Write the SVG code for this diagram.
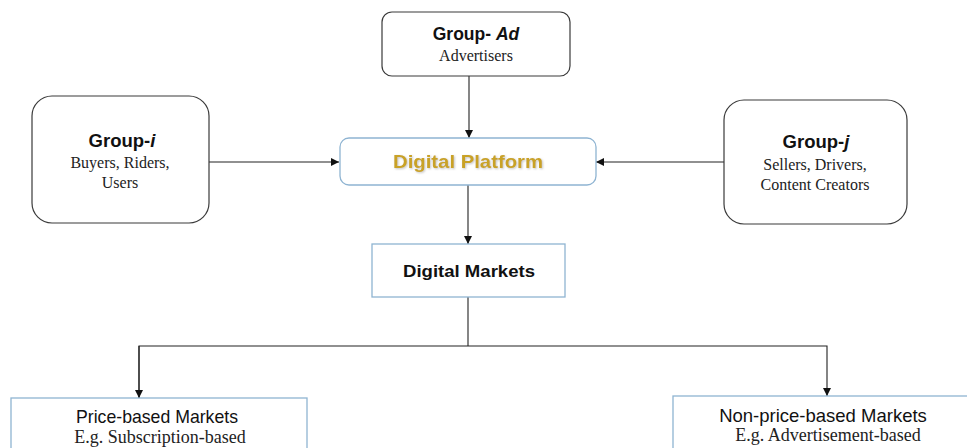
<svg xmlns="http://www.w3.org/2000/svg" width="967" height="448" viewBox="0 0 967 448">
  <style>
    .rbox { fill: #ffffff; stroke: #3a3a3a; stroke-width: 1.2; }
    .bbox { fill: #ffffff; stroke: #8fb4d2; stroke-width: 1.3; }
    .title { font-family: "Liberation Sans", Arial, sans-serif; font-weight: bold; fill: #111111; text-anchor: middle; }
    .sub { font-family: "Liberation Serif", "Times New Roman", serif; fill: #222222; text-anchor: middle; }
    .plain { font-family: "Liberation Sans", Arial, sans-serif; fill: #111111; text-anchor: middle; }
    .wire { fill: none; stroke: #222222; stroke-width: 1.1; }
  </style>
  <defs>
    <marker id="arrow" viewBox="0 0 10 10" refX="10" refY="5" markerWidth="8" markerHeight="8" markerUnits="userSpaceOnUse" orient="auto">
      <path d="M0,0 L10,5 L0,10 z" fill="#111111"/>
    </marker>
    <filter id="glow" x="-10%" y="-30%" width="120%" height="160%">
      <feGaussianBlur in="SourceAlpha" stdDeviation="1.2"/>
      <feOffset dx="0.8" dy="1" result="b"/>
      <feFlood flood-color="#9a9a9a" flood-opacity="0.6"/>
      <feComposite in2="b" operator="in"/>
      <feMerge><feMergeNode/><feMergeNode in="SourceGraphic"/></feMerge>
    </filter>
  </defs>

  <!-- connectors -->
  <g id="connectors">
    <line class="wire" x1="469" y1="76" x2="469" y2="138" marker-end="url(#arrow)"/>
    <line class="wire" x1="209" y1="162" x2="339" y2="162" marker-end="url(#arrow)"/>
    <line class="wire" x1="724" y1="162" x2="596" y2="162" marker-end="url(#arrow)"/>
    <line class="wire" x1="468" y1="185" x2="468" y2="244" marker-end="url(#arrow)"/>
    <polyline class="wire" points="468,297 468,346"/>
    <polyline class="wire" points="139,398 139,346 827,346 827,396" marker-end="url(#arrow)"/>
    <line class="wire" x1="139" y1="346" x2="139" y2="398" marker-end="url(#arrow)"/>
  </g>

  <!-- advertisers -->
  <g id="group-ad">
    <rect class="rbox" x="382" y="12" width="188" height="64" rx="10"/>
    <text class="title" x="476" y="40" font-size="17.5">Group- <tspan font-style="italic">Ad</tspan></text>
    <text class="sub" x="476" y="61" font-size="16">Advertisers</text>
  </g>

  <!-- group i -->
  <g id="group-i">
    <rect class="rbox" x="32" y="96" width="177" height="127" rx="20"/>
    <text class="title" x="122" y="147" font-size="18.5">Group-<tspan font-style="italic">i</tspan></text>
    <text class="sub" x="120" y="168" font-size="16">Buyers, Riders,</text>
    <text class="sub" x="120" y="188" font-size="16">Users</text>
  </g>

  <!-- group j -->
  <g id="group-j">
    <rect class="rbox" x="724" y="100" width="183" height="124" rx="20"/>
    <text class="title" x="816" y="148" font-size="18.5">Group-<tspan font-style="italic">j</tspan></text>
    <text class="sub" x="815" y="170" font-size="16">Sellers, Drivers,</text>
    <text class="sub" x="815" y="190" font-size="16">Content Creators</text>
  </g>

  <!-- platform -->
  <g id="digital-platform">
    <rect class="bbox" x="340" y="138" width="256" height="47" rx="9"/>
    <text class="title" x="468" y="168" font-size="19" style="fill:#c9a227" filter="url(#glow)" textLength="150" lengthAdjust="spacingAndGlyphs">Digital Platform</text>
  </g>

  <!-- markets -->
  <g id="digital-markets">
    <rect class="bbox" x="372" y="244" width="193" height="53"/>
    <text class="title" x="469" y="277" font-size="17" textLength="132" lengthAdjust="spacingAndGlyphs">Digital Markets</text>
  </g>

  <g id="price-based">
    <rect class="bbox" x="11" y="398" width="296" height="70"/>
    <text class="plain" x="157" y="423" font-size="18.5" textLength="162" lengthAdjust="spacingAndGlyphs">Price-based Markets</text>
    <text class="sub" x="160" y="443" font-size="18">E.g. Subscription-based</text>
  </g>

  <g id="non-price-based">
    <rect class="bbox" x="673" y="396" width="310" height="70"/>
    <text class="plain" x="823" y="422" font-size="18.5">Non-price-based Markets</text>
    <text class="sub" x="828" y="441" font-size="18">E.g. Advertisement-based</text>
  </g>
</svg>
